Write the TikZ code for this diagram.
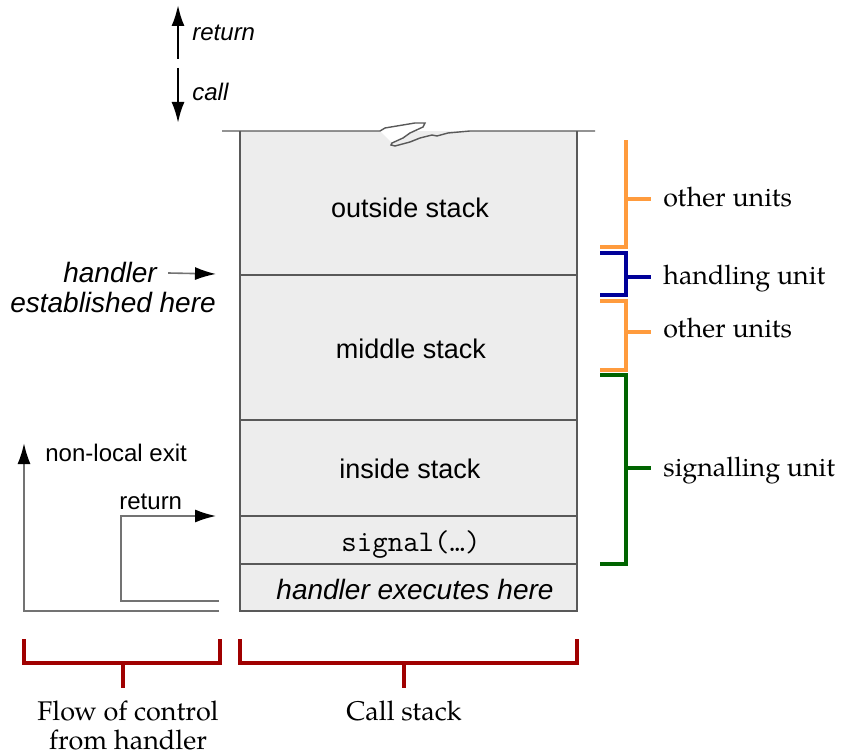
\documentclass[tikz,border=0pt]{standalone}
\usepackage{fontspec}
\setmainfont{TeX Gyre Pagella}
\setsansfont{Liberation Sans}
\usepackage{tikz}
\usetikzlibrary{arrows.meta,positioning}

\definecolor{stackgray}{HTML}{EDEDED}
\definecolor{otherorange}{HTML}{FF9B3D}
\definecolor{handleblue}{HTML}{000099}
\definecolor{signalgreen}{HTML}{006400}
\definecolor{groupred}{HTML}{A00000}

\begin{document}
\begin{tikzpicture}[x=0.5pt,y=-0.5pt,>={Latex[length=10.5pt,width=6.5pt,color=black]},
    every node/.style={inner sep=0pt},
    frame/.style={draw=black!65,line width=0.7pt},
    flow/.style={draw=black!55,line width=0.8pt},
    callarrow/.style={draw=black,line width=1.2pt},
    stacktext/.style={font=\sffamily\fontsize{13.5}{16}\selectfont},
    handlertext/.style={font=\sffamily\itshape\fontsize{14}{17}\selectfont},
    smalltext/.style={font=\sffamily\fontsize{12}{14}\selectfont},
    unittext/.style={font=\fontsize{13.4}{16}\selectfont,anchor=base west},
    grouptext/.style={font=\fontsize{13.5}{14.5}\selectfont,align=center},
    bracket/.style={line width=1.6pt}]

    \useasboundingbox (0,0) rectangle (845,753);

    % the stack
    \fill[stackgray] (240,131) rectangle (577,611);
    \draw[frame] (240,131) -- (240,611) -- (577,611) -- (577,131);
    \foreach \y in {275,420,516,564}
        \draw[frame] (240,\y) -- (577,\y);
    % torn top edge
    \fill[white] (380,131) -- (385,128) -- (403,125) -- (415,123) -- (425,123)
        -- (423,127) -- (410,133) -- (403,138) -- (392,143) -- cycle;
    \draw[frame] (222,131) -- (380,131) -- (385,128) -- (403,125) -- (415,123)
        -- (425,123) -- (423,127) -- (410,133) -- (403,138) -- (392,143)
        -- (391,145) -- (395,146) -- (410,142) -- (420,138) -- (432,135)
        -- (437,136) -- (448,133) -- (470,131) -- (595,131);

    \node[stacktext] (outside) at (410,208) {outside stack};
    \node[stacktext] (middle)  at (411,349) {middle stack};
    \node[stacktext] (inside)  at (410,469) {inside stack};
    \node[font=\ttfamily\fontsize{15}{17}\selectfont] (signal) at (411,545) {signal(…)};
    \node[handlertext] (executes) at (415,589) {handler executes here};

    % call / return
    \coordinate (upfrom) at (178,59);
    \coordinate (upto) at (178,5);
    \coordinate (downfrom) at (178,68);
    \coordinate (downto) at (178,123);
    \draw[callarrow,->] (upfrom) -- (upto);
    \draw[callarrow,->] (downfrom) -- (downto);
    \node[font=\sffamily\itshape\fontsize{12}{14}\selectfont,anchor=west] (ret) at (192,33) {return};
    \node[font=\sffamily\itshape\fontsize{12}{14}\selectfont,anchor=west] (call) at (192,92) {call};

    % handler established
    \node[handlertext] (handler) at (110,272) {handler};
    \node[handlertext] (established) at (113,302) {established here};
    \coordinate (handlerto) at (216,274);
    \path (handler.east) ++(11,1) coordinate (handlerfrom);
    \draw[flow,->] (handlerfrom) -- (handlerto);

    % flow of control from the handler
    \coordinate (exitstart) at (219,611);
    \coordinate (exitcorner) at (24,611);
    \coordinate (exittop) at (24,443);
    \draw[flow,line width=1pt,->] (exitstart) -- (exitcorner) -- (exittop);
    \node[smalltext,anchor=west] (exit) at (45,453) {non-local exit};

    \coordinate (retstart) at (219,601);
    \coordinate (retcorner) at (121,601);
    \coordinate (retup) at (121,516);
    \coordinate (retto) at (216,516);
    \draw[flow,->] (retstart) -- (retcorner) -- (retup) -- (retto);
    \node[smalltext,anchor=west] (retlabel) at (119,502) {return};

    % groups below
    \draw[bracket,groupred] (24,639) -- (24,663) -- (220,663) -- (220,639);
    \draw[bracket,groupred] (240,639) -- (240,663) -- (577,663) -- (577,639);
    \node[grouptext,anchor=north] (flowlabel) at (128,700) {Flow of control\\from handler};
    \node[grouptext,anchor=north] (stacklabel) at (404,700) {Call stack};
    \draw[bracket,groupred] (123,663) -- (123,688);
    \draw[bracket,groupred] (404,663) -- (404,688);

    % units on the right
    \node[unittext] (other1) at (663,207) {other units};
    \node[unittext] (handling) at (663,285) {handling unit};
    \node[unittext] (other2) at (663,337) {other units};
    \node[unittext] (signalling) at (663,476) {signalling unit};
    \coordinate (tick1) at (651,199);
    \coordinate (tick2) at (651,277);
    \coordinate (tick3) at (651,332);
    \coordinate (tick4) at (651,468);

    \draw[bracket,otherorange] (600,247) -- (626,247) -- (626,140);
    \draw[bracket,otherorange] (626,199) -- (tick1);
    \draw[bracket,handleblue] (600,253) -- (626,253) -- (626,295) -- (600,295);
    \draw[bracket,handleblue] (626,277) -- (tick2);
    \draw[bracket,otherorange] (600,301) -- (626,301) -- (626,370) -- (600,370);
    \draw[bracket,otherorange] (626,332) -- (tick3);
    \draw[bracket,signalgreen] (600,375) -- (626,375) -- (626,564) -- (600,564);
    \draw[bracket,signalgreen] (626,468) -- (tick4);
\end{tikzpicture}
\end{document}
